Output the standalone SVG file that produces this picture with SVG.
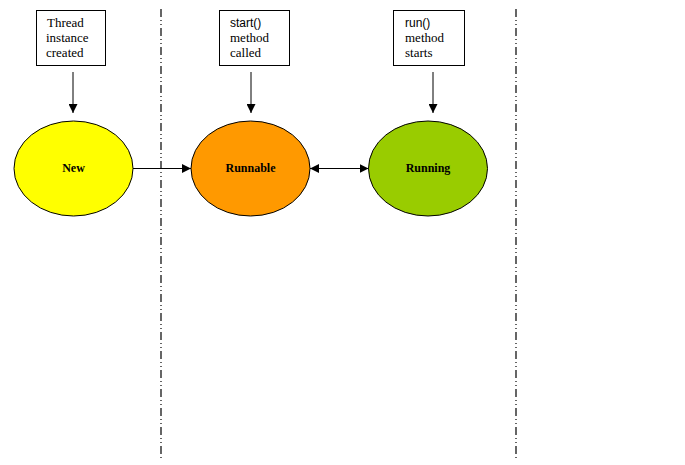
<svg xmlns="http://www.w3.org/2000/svg" width="685" height="465" viewBox="0 0 685 465">
<style>
.sep{stroke:#000;stroke-width:1.2;stroke-dasharray:8 3 1 3 1 3;fill:none}
.box{fill:#fff;stroke:#000;stroke-width:1}
.st{stroke:#000;stroke-width:1;}
.lbl{font-family:"Liberation Serif",serif;font-size:13px;fill:#000}
.sans{font-family:"Liberation Sans",sans-serif;font-size:12px;fill:#000}
.nl{font-family:"Liberation Serif",serif;font-size:12px;font-weight:bold;fill:#000;text-anchor:middle}
.con{stroke:#000;stroke-width:1;fill:none}
</style>
<defs>
<marker id="ah" viewBox="0 0 10 10" refX="10" refY="5" markerWidth="9" markerHeight="9" markerUnits="userSpaceOnUse" orient="auto-start-reverse">
<path d="M0,0 L10,5 L0,10 z" fill="#000"/>
</marker>
</defs>
<rect width="685" height="465" fill="#fff"/>
<g id="separators">
<line class="sep" x1="161" y1="9" x2="161" y2="460"/>
<line class="sep" x1="516" y1="9" x2="516" y2="460"/>
</g>
<g id="box-thread">
<rect class="box" x="36.5" y="10.5" width="69" height="55"/>
<text class="lbl" x="47" y="27">Thread</text>
<text class="lbl" x="46" y="42">instance</text>
<text class="lbl" x="46" y="57">created</text>
</g>
<g id="box-start">
<rect class="box" x="219.5" y="10.5" width="70" height="55"/>
<text class="sans" x="230" y="27">start()</text>
<text class="lbl" x="230" y="42">method</text>
<text class="lbl" x="230" y="57">called</text>
</g>
<g id="box-run">
<rect class="box" x="393.5" y="10.5" width="71" height="55"/>
<text class="sans" x="405" y="27">run()</text>
<text class="lbl" x="405" y="42">method</text>
<text class="lbl" x="405" y="57">starts</text>
</g>
<g id="node-new">
<ellipse cx="73.5" cy="168.5" rx="59.5" ry="47.5" fill="#ffff00" stroke="#000" stroke-width="1"/>
<text class="nl" x="73.5" y="172">New</text>
</g>
<g id="node-runnable">
<ellipse cx="250.5" cy="168.5" rx="59.5" ry="47.5" fill="#ff9900" stroke="#000" stroke-width="1"/>
<text class="nl" x="250.5" y="172">Runnable</text>
</g>
<g id="node-running">
<ellipse cx="428" cy="168.5" rx="59.5" ry="47.5" fill="#99cc00" stroke="#000" stroke-width="1"/>
<text class="nl" x="428" y="172">Running</text>
</g>
<g id="connectors">
<line class="con" x1="73" y1="72" x2="73" y2="113" marker-end="url(#ah)"/>
<line class="con" x1="251" y1="72" x2="251" y2="113" marker-end="url(#ah)"/>
<line class="con" x1="433" y1="72" x2="433" y2="113" marker-end="url(#ah)"/>
<line class="con" x1="133" y1="168.5" x2="191" y2="168.5" marker-end="url(#ah)"/>
<line class="con" x1="310" y1="168.5" x2="368.5" y2="168.5" marker-start="url(#ah)" marker-end="url(#ah)"/>
</g>
</svg>
